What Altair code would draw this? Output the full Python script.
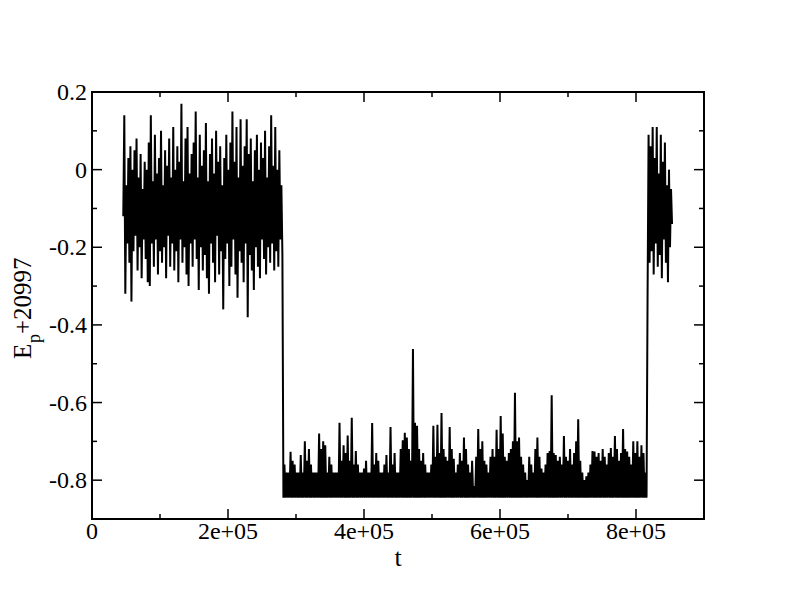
import altair as alt
import pandas as pd

# ---- series values (E_p + 20997) ----
seg1_t0, seg1_dt = 46000, 1500
seg1_v = [
    -0.12, 0.14, -0.32, -0.04, -0.19, 0.03, -0.24, 0.06, -0.34, 0.00,
    -0.21, 0.05, -0.17, 0.08, -0.26, -0.02, -0.20, 0.04, -0.28, -0.05,
    -0.18, 0.02, -0.23, 0.00, -0.29, 0.07, -0.30, 0.14, -0.19, -0.03,
    -0.25, 0.09, -0.18, -0.01, -0.27, 0.03, -0.21, 0.10, -0.24, -0.04,
    -0.20, 0.05, -0.28, 0.01, -0.17, 0.08, -0.25, -0.02, -0.19, 0.11,
    -0.26, 0.00, -0.21, 0.06, -0.29, 0.02, -0.18, 0.17, -0.24, -0.03,
    -0.20, 0.08, -0.27, 0.11, -0.30, -0.01, -0.19, 0.04, -0.25, 0.07,
    -0.18, 0.15, -0.23, -0.02, -0.31, 0.09, -0.20, 0.01, -0.26, 0.05,
    -0.22, 0.12, -0.28, -0.03, -0.32, 0.04, -0.19, 0.08, -0.24, -0.01,
    -0.29, 0.10, -0.17, 0.02, -0.27, 0.06, -0.21, -0.04, -0.36, 0.03,
    -0.23, 0.09, -0.19, 0.00, -0.30, 0.07, -0.25, 0.15, -0.18, 0.02,
    -0.27, 0.11, -0.33, -0.02, -0.21, 0.13, -0.24, 0.01, -0.29, 0.06,
    -0.19, 0.13, -0.38, 0.04, -0.22, 0.08, -0.26, -0.03, -0.31, 0.05,
    -0.20, 0.09, -0.25, 0.00, -0.28, 0.07, -0.18, 0.03, -0.23, 0.10,
    -0.27, -0.02, -0.20, 0.06, -0.24, 0.14, -0.19, 0.01, -0.26, 0.11,
    -0.21, 0.00, -0.25, 0.05, -0.18, -0.04, -0.22,
]

seg2_t0, seg2_dt = 281500, 1500
seg2_v = [
    -0.845, -0.76, -0.845, -0.78, -0.845, -0.78, -0.845, -0.727, -0.845, -0.75,
    -0.845, -0.76, -0.845, -0.78, -0.845, -0.78, -0.845, -0.735, -0.845, -0.78,
    -0.845, -0.70, -0.845, -0.75, -0.845, -0.72, -0.845, -0.76, -0.845, -0.78,
    -0.845, -0.78, -0.845, -0.78, -0.845, -0.68, -0.845, -0.72, -0.845, -0.70,
    -0.845, -0.71, -0.845, -0.78, -0.845, -0.74, -0.845, -0.76, -0.845, -0.78,
    -0.845, -0.78, -0.845, -0.78, -0.845, -0.652, -0.845, -0.75, -0.845, -0.71,
    -0.845, -0.73, -0.845, -0.685, -0.845, -0.75, -0.845, -0.639, -0.845, -0.76,
    -0.845, -0.725, -0.845, -0.76, -0.845, -0.78, -0.845, -0.78, -0.845, -0.77,
    -0.845, -0.75, -0.845, -0.78, -0.845, -0.78, -0.845, -0.653, -0.845, -0.76,
    -0.845, -0.73, -0.845, -0.75, -0.845, -0.78, -0.845, -0.78, -0.845, -0.76,
    -0.845, -0.735, -0.845, -0.78, -0.845, -0.663, -0.845, -0.76, -0.845, -0.73,
    -0.845, -0.78, -0.845, -0.78, -0.845, -0.72, -0.845, -0.697, -0.845, -0.678,
    -0.845, -0.69, -0.845, -0.72, -0.845, -0.75, -0.845, -0.462, -0.845, -0.652,
    -0.845, -0.66, -0.845, -0.72, -0.845, -0.75, -0.845, -0.73, -0.845, -0.76,
    -0.845, -0.78, -0.845, -0.78, -0.845, -0.76, -0.845, -0.66, -0.845, -0.74,
    -0.845, -0.657, -0.845, -0.73, -0.845, -0.627, -0.845, -0.72, -0.845, -0.74,
    -0.845, -0.75, -0.845, -0.663, -0.845, -0.72, -0.845, -0.745, -0.845, -0.78,
    -0.845, -0.76, -0.845, -0.73, -0.845, -0.75, -0.845, -0.69, -0.845, -0.72,
    -0.845, -0.76, -0.845, -0.78, -0.845, -0.75, -0.845, -0.815, -0.845, -0.74,
    -0.845, -0.668, -0.845, -0.72, -0.845, -0.70, -0.845, -0.75, -0.845, -0.76,
    -0.845, -0.78, -0.845, -0.74, -0.845, -0.72, -0.845, -0.74, -0.845, -0.67,
    -0.845, -0.72, -0.845, -0.635, -0.845, -0.68, -0.845, -0.74, -0.845, -0.75,
    -0.845, -0.73, -0.845, -0.72, -0.845, -0.70, -0.845, -0.575, -0.845, -0.70,
    -0.845, -0.69, -0.845, -0.74, -0.845, -0.76, -0.845, -0.78, -0.845, -0.80,
    -0.845, -0.74, -0.845, -0.76, -0.845, -0.78, -0.845, -0.72, -0.845, -0.69,
    -0.845, -0.74, -0.845, -0.77, -0.845, -0.78, -0.845, -0.76, -0.845, -0.73,
    -0.845, -0.725, -0.845, -0.581, -0.845, -0.73, -0.845, -0.735, -0.845, -0.75,
    -0.845, -0.74, -0.845, -0.76, -0.845, -0.686, -0.845, -0.74, -0.845, -0.75,
    -0.845, -0.72, -0.845, -0.76, -0.845, -0.73, -0.845, -0.70, -0.845, -0.643,
    -0.845, -0.75, -0.845, -0.78, -0.845, -0.80, -0.845, -0.79, -0.845, -0.78,
    -0.845, -0.76, -0.845, -0.725, -0.845, -0.726, -0.845, -0.74, -0.845, -0.73,
    -0.845, -0.75, -0.845, -0.72, -0.845, -0.74, -0.845, -0.76, -0.845, -0.73,
    -0.845, -0.717, -0.845, -0.74, -0.845, -0.686, -0.845, -0.72, -0.845, -0.75,
    -0.845, -0.73, -0.845, -0.668, -0.845, -0.72, -0.845, -0.726, -0.845, -0.74,
    -0.845, -0.76, -0.845, -0.70, -0.845, -0.73, -0.845, -0.70, -0.845, -0.74,
    -0.845, -0.71, -0.845, -0.73, -0.845, -0.78, -0.845,
]

seg3_t0, seg3_dt = 817000, 1500
seg3_v = [
    -0.33, 0.09, -0.24, 0.06, -0.21, 0.11, -0.27, 0.03, -0.19, 0.11,
    -0.25, -0.01, -0.22, 0.09, -0.28, 0.02, -0.18, 0.07, -0.24, -0.04,
    -0.29, 0.00, -0.20, -0.05, -0.14,
]

# ---- axis ticks / labels ----
x_major = [0, 200000, 400000, 600000, 800000]
x_labels = ["0", "2e+05", "4e+05", "6e+05", "8e+05"]
x_minor = [100000, 300000, 500000, 700000]
y_major = [-0.8, -0.6, -0.4, -0.2, 0.0, 0.2]
y_labels = ["-0.8", "-0.6", "-0.4", "-0.2", "0", "0.2"]
y_minor = [-0.7, -0.5, -0.3, -0.1, 0.1]
x_domain = [0, 900000]
y_domain = [-0.9, 0.2]

rows = []
for t0, dt, vals in [(seg1_t0, seg1_dt, seg1_v), (seg2_t0, seg2_dt, seg2_v), (seg3_t0, seg3_dt, seg3_v)]:
    for i, v in enumerate(vals):
        rows.append({"t": t0 + dt * i, "E": v})
df = pd.DataFrame(rows)

W, H = 612, 427
FONT = "Liberation Serif"
LBL = 24
xs = alt.Scale(domain=x_domain, nice=False, zero=False)
ys = alt.Scale(domain=y_domain, nice=False, zero=False)

X = lambda: alt.X("t:Q", scale=xs, axis=None)
Y = lambda: alt.Y("E:Q", scale=ys, axis=None)

line = alt.Chart(df).mark_line(color="black", strokeWidth=2, clip=True).encode(x=X(), y=Y())

def xticks(vals, length):
    d = pd.DataFrame({"t": vals})
    base = alt.Chart(d).mark_rule(color="black", strokeWidth=1.5)
    bottom = base.encode(x=X(), y=alt.value(H), y2=alt.value(H - length))
    top = base.encode(x=X(), y=alt.value(0), y2=alt.value(length))
    return [bottom, top]

def yticks(vals, length):
    d = pd.DataFrame({"E": vals})
    base = alt.Chart(d).mark_rule(color="black", strokeWidth=1.5)
    left = base.encode(y=Y(), x=alt.value(0), x2=alt.value(length))
    right = base.encode(y=Y(), x=alt.value(W), x2=alt.value(W - length))
    return [left, right]

tick_layers = xticks(x_major, 10) + xticks(x_minor, 5) + yticks(y_major, 10) + yticks(y_minor, 5)

# tick labels
xlab = alt.Chart(pd.DataFrame({"t": x_major, "s": x_labels})).mark_text(
    font=FONT, fontSize=LBL, align="center", baseline="alphabetic", color="black"
).encode(x=X(), y=alt.value(H + 20), text="s:N")
ylab = alt.Chart(pd.DataFrame({"E": y_major, "s": y_labels})).mark_text(
    font=FONT, fontSize=LBL, align="right", baseline="alphabetic", color="black", dx=-5, dy=8
).encode(y=Y(), x=alt.value(0), text="s:N")

# axis titles
title_t = alt.Chart(pd.DataFrame({"s": ["t"]})).mark_text(
    font=FONT, fontSize=26, align="center", baseline="alphabetic", color="black"
).encode(text="s:N", x=alt.value(W / 2), y=alt.value(H + 47))
title_E = alt.Chart(pd.DataFrame({"s": ["E"]})).mark_text(
    font=FONT, fontSize=25, angle=270, align="left", baseline="alphabetic", color="black"
).encode(text="s:N", x=alt.value(-61), y=alt.value(267))
title_p = alt.Chart(pd.DataFrame({"s": ["p"]})).mark_text(
    font=FONT, fontSize=18, angle=270, align="left", baseline="alphabetic", color="black"
).encode(text="s:N", x=alt.value(-52), y=alt.value(251))
title_rest = alt.Chart(pd.DataFrame({"s": ["+20997"]})).mark_text(
    font=FONT, fontSize=25, angle=270, align="left", baseline="alphabetic", color="black"
).encode(text="s:N", x=alt.value(-61), y=alt.value(242))

chart = alt.layer(line, *tick_layers, xlab, ylab, title_t, title_E, title_p, title_rest).properties(
    width=W, height=H,
    autosize=alt.AutoSizeParams(type="none"),
    padding={"left": 84, "top": 84, "right": 80, "bottom": 85},
    background="white",
).configure_view(stroke="black", strokeWidth=2)

chart.save("out.html", embed_options={"renderer": "svg", "actions": False})
